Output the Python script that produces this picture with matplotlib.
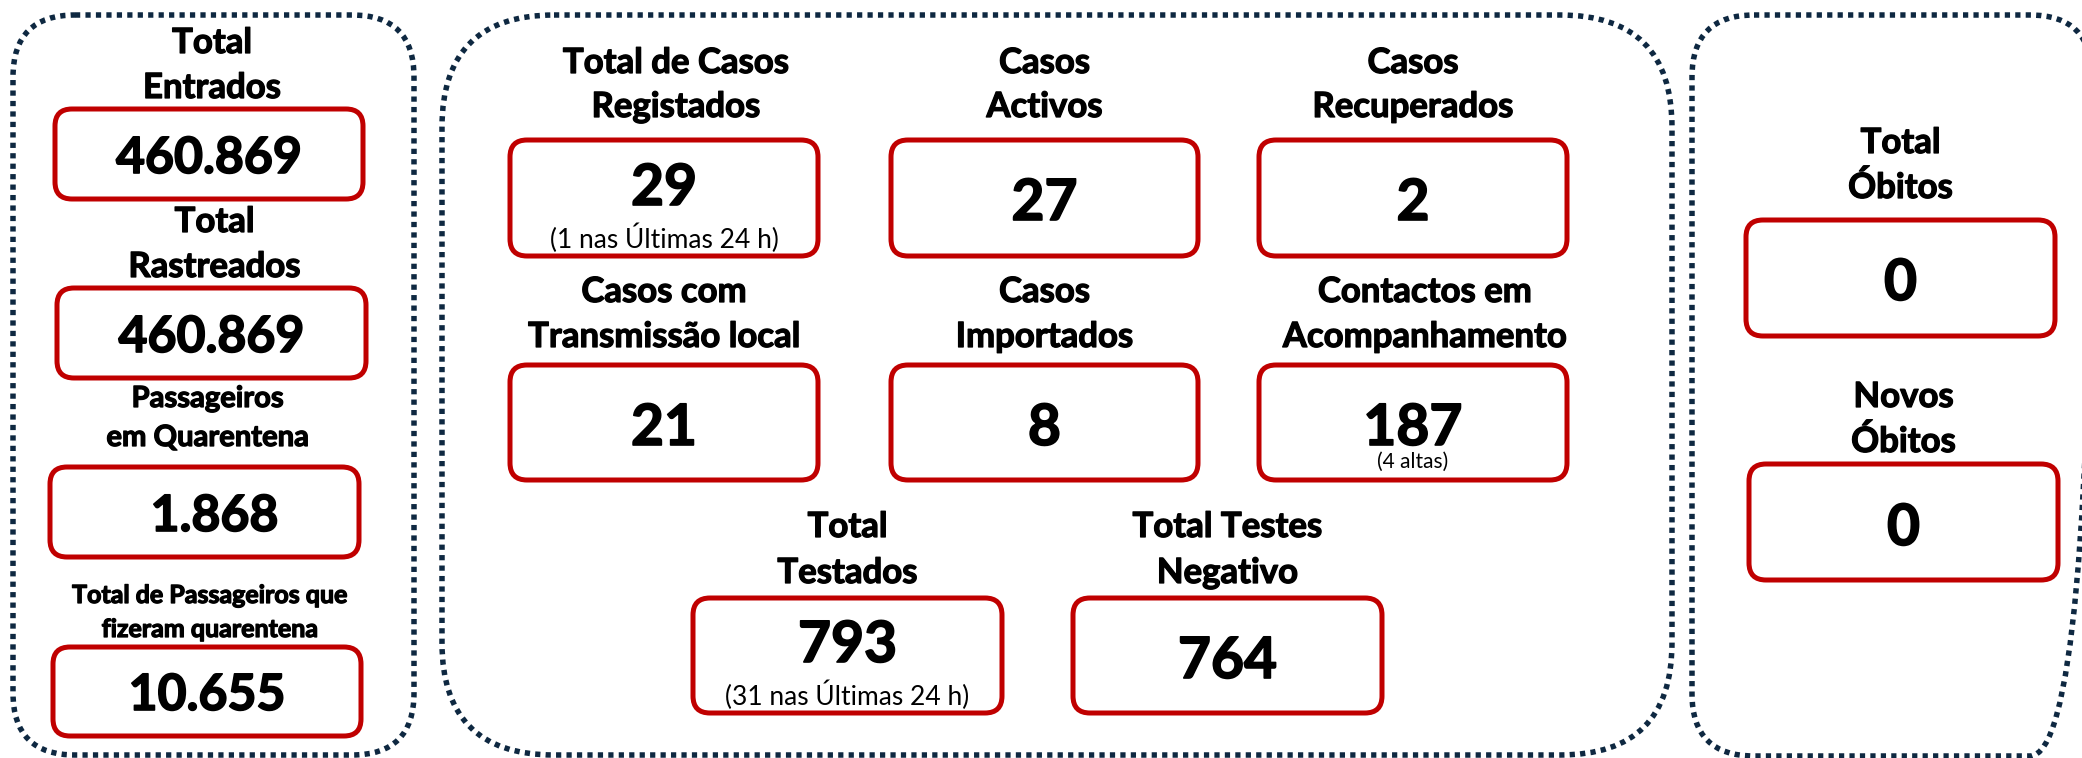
import matplotlib
matplotlib.use("Agg")
import matplotlib.pyplot as plt
import matplotlib.patheffects as pe
from matplotlib.patches import FancyBboxPatch

# ---------------- data ----------------
left_titles = ["Total\nEntrados", "Total\nRastreados", "Passageiros\nem Quarentena",
               "Total de Passageiros que\nfizeram quarentena"]
left_values = ["460.869", "460.869", "1.868", "10.655"]

mid_titles = ["Total de Casos\nRegistados", "Casos\nActivos", "Casos\nRecuperados",
              "Casos com\nTransmissão local", "Casos\nImportados", "Contactos em\nAcompanhamento",
              "Total\nTestados", "Total Testes\nNegativo"]
mid_values = ["29", "27", "2", "21", "8", "187", "793", "764"]
mid_notes = ["(1 nas Últimas 24 h)", "", "", "", "", "(4 altas)", "(31 nas Últimas 24 h)", ""]

right_titles = ["Total\nÓbitos", "Novos\nÓbitos"]
right_values = ["0", "0"]

# ---------------- layout (pixels) ----------------
W, H = 2082, 758
NAVY = "#0E2841"
RED = "#C00000"
FONT = "Lato"

panels = [  # x0, y0, x1, y1, radius
    (13, 15, 414, 755, 62),
    (442, 15, 1672, 755, 112),
    (1692, 15, 2092, 756, 62),
]

left_boxes = [(55, 109, 363, 199), (57, 288, 366, 378), (50, 467, 359, 557), (53, 647, 361, 736)]
left_title_bl = [(53, 98), (232, 277), (407, 446), (603, 637)]
left_title_fs = [25, 25, 21, 18]
left_num_dx = [0, 0, 10, 0]

mid_boxes = [(510, 140, 818, 256), (891, 140, 1198, 256), (1259, 140, 1567, 256),
             (510, 365, 818, 480), (891, 365, 1198, 480), (1259, 365, 1567, 480),
             (693, 598, 1002, 713), (1073, 598, 1382, 713)]
mid_title_bl = [(73, 117), (73, 117), (73, 117),
                (302, 347), (302, 347), (302, 347),
                (537, 583), (537, 583)]
mid_title_dx = [12, 0, 0, 0, 0, 12, 0, 0]
mid_num_bl = [205, 220, 220, 445, 445, 445, 662, 678]
mid_note_bl = [248, None, None, None, None, 468, 705, None]
mid_note_fs = [19, None, None, None, None, 15, 19, None]

right_boxes = [(1746, 220, 2055, 336), (1749, 464, 2058, 580)]
right_title_bl = [(153, 198), (407, 452)]
right_num_bl = [300, 545]


def px2pt(px):
    return px * 72.0 / 100.0


fig = plt.figure(figsize=(W / 100, H / 100), dpi=100)
ax = fig.add_axes([0, 0, 1, 1])
ax.set_xlim(0, W)
ax.set_ylim(H, 0)
ax.axis("off")

# dotted panels
for x0, y0, x1, y1, r in panels:
    p = FancyBboxPatch((x0, y0), x1 - x0, y1 - y0,
                       boxstyle=f"round,pad=0,rounding_size={r}",
                       fill=False, ec=NAVY, lw=px2pt(5.5),
                       linestyle=(0, (0.95, 0.95)), capstyle="butt", joinstyle="miter")
    ax.add_patch(p)


def red_box(b):
    x0, y0, x1, y1 = b
    p = FancyBboxPatch((x0, y0), x1 - x0, y1 - y0,
                       boxstyle="round,pad=0,rounding_size=17",
                       fill=False, ec=RED, lw=px2pt(5))
    ax.add_patch(p)


TITLE_FX = [pe.withStroke(linewidth=0.9, foreground="black")]
NUM_FX = [pe.withStroke(linewidth=1.2, foreground="black")]


def title(xc, bls, text, fs):
    for line, bl in zip(text.split("\n"), bls):
        ax.text(xc, bl, line, ha="center", va="baseline", fontsize=fs,
                fontweight="bold", family=FONT, color="black", path_effects=TITLE_FX)


def number(xc, bl, text, fs):
    ax.text(xc, bl, text, ha="center", va="baseline", fontsize=fs,
            fontweight="bold", family=FONT, color="black", path_effects=NUM_FX)


# left panel
for b, t, v, tb, fs, dx in zip(left_boxes, left_titles, left_values, left_title_bl,
                               left_title_fs, left_num_dx):
    red_box(b)
    xc = (b[0] + b[2]) / 2
    title(xc + 3, tb, t, fs)
    number(xc + dx, b[3] - 26, v, 36)

# middle panel
for b, t, v, n, tb, tdx, nb, ntb, nfs in zip(mid_boxes, mid_titles, mid_values, mid_notes,
                                            mid_title_bl, mid_title_dx, mid_num_bl,
                                            mid_note_bl, mid_note_fs):
    red_box(b)
    xc = (b[0] + b[2]) / 2
    title(xc + tdx, tb, t, 25)
    number(xc, nb, v, 41)
    if n:
        ax.text(xc, ntb, n, ha="center", va="baseline", fontsize=nfs,
                family=FONT, color="black")

# right panel
for b, t, v, tb, nb in zip(right_boxes, right_titles, right_values, right_title_bl, right_num_bl):
    red_box(b)
    xc = (b[0] + b[2]) / 2
    title(xc, tb, t, 25)
    number(xc, nb, v, 41)

fig.savefig("out.png", dpi=100, facecolor="white")
